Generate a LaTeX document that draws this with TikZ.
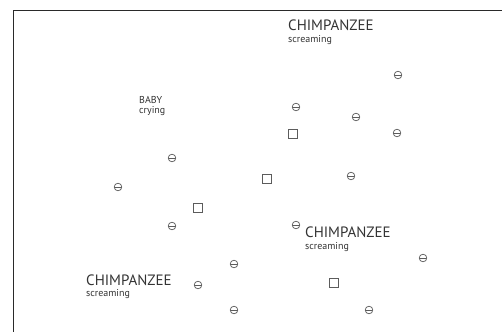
\documentclass[tikz,border=0pt]{standalone}
\usepackage{fontspec}
\setmainfont{PT Sans}
\usepackage{tikz}
\usetikzlibrary{positioning}
\definecolor{apeink}{HTML}{333333}
\definecolor{apegrey}{HTML}{5C5C5C}
\definecolor{apeframe}{HTML}{2A2A2A}

\begin{document}
\begin{tikzpicture}[x=1pt, y=-1pt, font=\fontsize{10}{12}\selectfont]
  \tikzset{neg/.style={circle, draw=apegrey, line width=0.7pt, minimum size=7.6pt, inner sep=0,
                       path picture={\draw[apegrey, line width=0.7pt] (path picture bounding box.west) -- (path picture bounding box.east);}},
           sq/.style={rectangle, draw=apegrey, line width=0.7pt, minimum size=9pt, inner sep=0},
           head/.style={anchor=base west, inner sep=0, text=apeink, font=\fontsize{15}{18}\selectfont},
           sub/.style={anchor=base west, inner sep=0, text=apeink, font=\fontsize{10}{12}\selectfont}}
  \useasboundingbox (0,0) rectangle (502,332);
  % frame
  \draw[apeframe, line width=1pt] (502,10) -- (13,10) -- (13,332);
  % labels
  \node[head] (chimpA) at (288,30) {CHIMPANZEE};
  \node[sub] (scrA) at ([yshift=-12pt]chimpA.base west) {screaming};
  \node[sub] (baby) at (139,103) {BABY};
  \node[sub] (cry) at ([yshift=-10.5pt]baby.base west) {crying};
  \node[head] (chimpB) at (305,237) {CHIMPANZEE};
  \node[sub] (scrB) at ([yshift=-12.5pt]chimpB.base west) {screaming};
  \node[head] (chimpC) at (86,285) {CHIMPANZEE};
  \node[sub] (scrC) at ([yshift=-11.5pt]chimpC.base west) {screaming};
  % crossed circles
  \node[neg] (n1) at (398,75) {};
  \node[neg] (n2) at (296,107) {};
  \node[neg] (n3) at (356,117) {};
  \node[neg] (n4) at (397,133) {};
  \node[neg] (n5) at (172,158) {};
  \node[neg] (n6) at (118,187) {};
  \node[neg] (n7) at (351,176) {};
  \node[neg] (n8) at (172,226) {};
  \node[neg] (n9) at (296,225) {};
  \node[neg] (n10) at (423,258) {};
  \node[neg] (n11) at (234,264) {};
  \node[neg] (n12) at (198,285) {};
  \node[neg] (n13) at (234,310) {};
  \node[neg] (n14) at (369,310) {};
  % squares
  \node[sq] (s1) at (293,134) {};
  \node[sq] (s2) at (267,179) {};
  \node[sq] (s3) at (198,208) {};
  \node[sq] (s4) at (334,283) {};
\end{tikzpicture}
\end{document}
